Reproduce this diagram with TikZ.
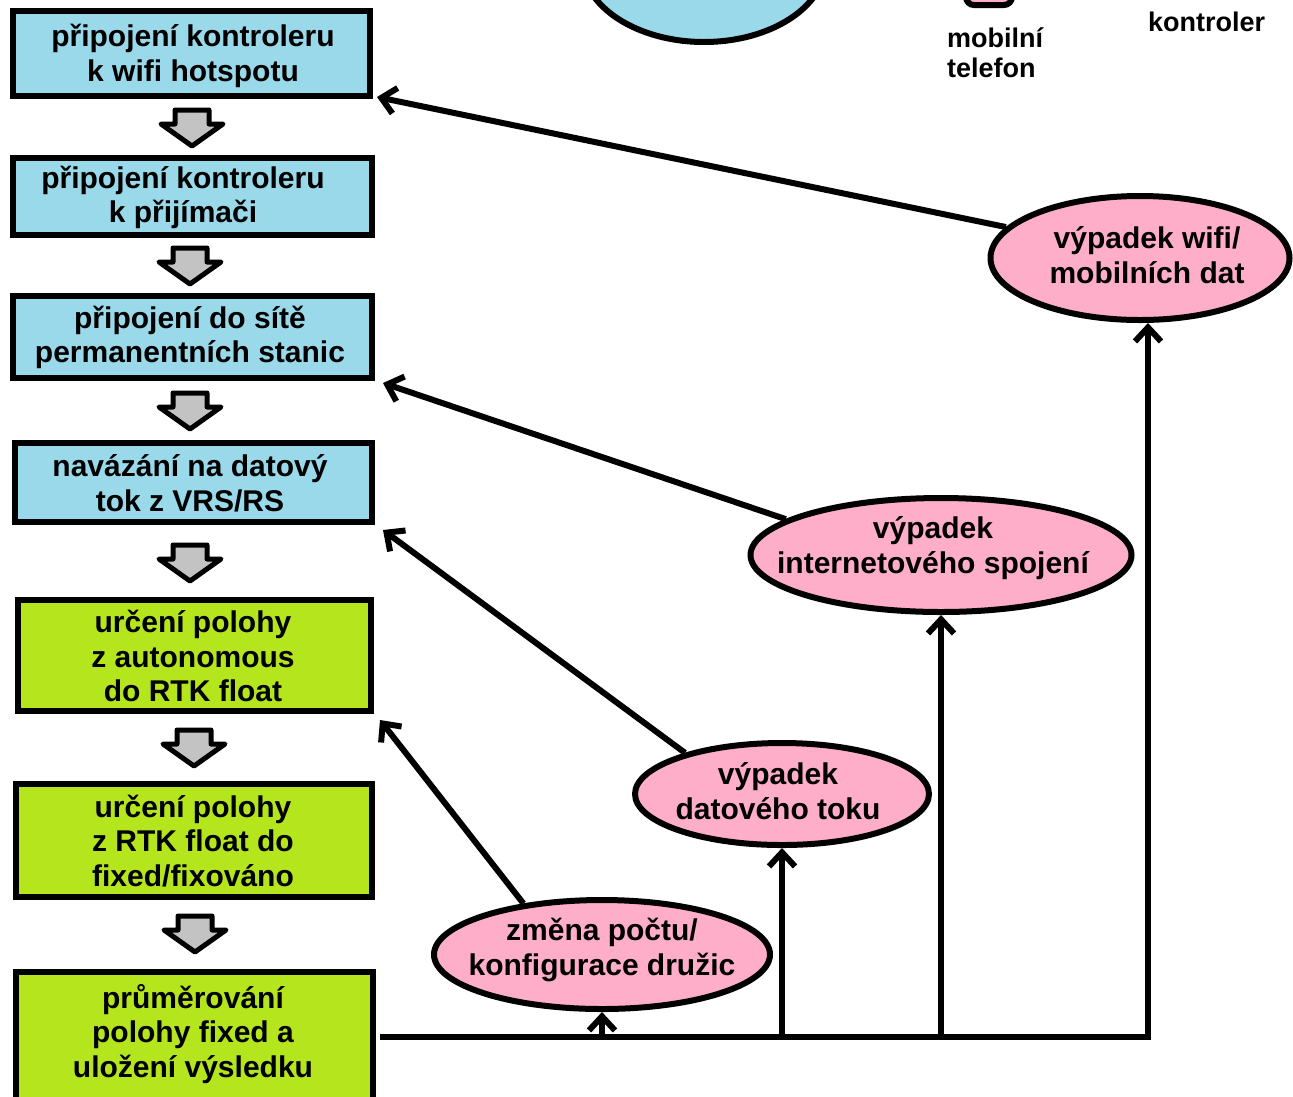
\documentclass[tikz,border=0pt]{standalone}
\usepackage{fontspec}
\setmainfont{Liberation Sans}
\usetikzlibrary{shapes.geometric,arrows.meta,calc}
\definecolor{boxblue}{HTML}{99D9EA}
\definecolor{boxgreen}{HTML}{B5E61D}
\definecolor{elpink}{HTML}{FFAEC9}
\definecolor{arrgray}{HTML}{C3C3C3}
\tikzset{
  txt/.style={font=\fontsize{30}{34.5}\selectfont\bfseries, align=center, text=black},
  stepbox/.style={draw=black, line width=6pt, rectangle, inner sep=0pt, txt},
  bluebox/.style={stepbox, fill=boxblue},
  greenbox/.style={stepbox, fill=boxgreen},
  failell/.style={draw=black, line width=6pt, ellipse, fill=elpink, inner sep=0pt},
  link/.style={line width=6pt, -{Straight Barb[length=14pt,width=26pt,line width=6pt]}, line join=round},
  bus/.style={line width=6pt},
  downarrow/.pic={\draw[line width=5pt, fill=arrgray, line join=round]
     (-17,0) -- (17,0) -- (17,14) -- (31,14) -- (0,36) -- (-31,14) -- (-17,14) -- cycle;},
  lbl/.style={font=\fontsize{27}{30}\selectfont\bfseries, align=left, inner sep=0pt, anchor=north west}
}
\begin{document}
\begin{tikzpicture}[x=1pt,y=-1pt]
\useasboundingbox (0,0) rectangle (1293,1096);
\clip (0,0) rectangle (1293,1096);

% cropped top items
\draw[line width=6pt, fill=boxblue] (704,-38) ellipse [x radius=122, y radius=80];
\draw[line width=6pt, fill=elpink, rounded corners=8pt] (966,-40) rectangle (1012,5);
\node[lbl] (mob) at (947,27) {mobilní\\telefon};
\node[lbl] (kon) at (1148,12) {kontroler};

% step boxes
\node[bluebox, minimum width=357pt, minimum height=85pt] (box1) at (191.5,53.5) {};
\node[txt] (box1t) at (193,56) {připojení kontroleru\\k wifi hotspotu};
\node[bluebox, minimum width=359pt, minimum height=77pt] (box2) at (192.5,196.5) {};
\node[txt] (box2t) at (183,197.5) {připojení kontroleru\\k přijímači};
\node[bluebox, minimum width=359pt, minimum height=82pt] (box3) at (192.5,337) {};
\node[txt] (box3t) at (190,337.5) {připojení do sítě\\permanentních stanic};
\node[bluebox, minimum width=357pt, minimum height=79pt] (box4) at (193.5,482.5) {};
\node[txt] (box4t) at (190,483.5) {navázání na datový\\tok z VRS/RS};
\node[greenbox, minimum width=353pt, minimum height=111pt] (box5) at (194.5,655.5) {};
\node[txt] (box5t) at (193,656) {určení polohy\\z autonomous\\do RTK float};
\node[greenbox, minimum width=356pt, minimum height=113pt] (box6) at (194,840.5) {};
\node[txt] (box6t) at (193,841) {určení polohy\\z RTK float do\\fixed/fixováno};
\node[greenbox, minimum width=357pt, minimum height=170pt] (box7) at (194.5,1057) {};
\node[txt] (box7t) at (193,1034) {průměrování\\polohy fixed a\\uložení výsledku};

% block arrows
\pic at (192,110) {downarrow};
\pic at (190,248) {downarrow};
\pic at (190,393) {downarrow};
\pic at (190,545) {downarrow};
\pic at (194,730) {downarrow};
\pic at (195,916) {downarrow};

% failure ellipses
\node[failell, minimum width=299pt, minimum height=124pt] (e1) at (1140,258) {};
\node[txt] (e1t) at (1147,255) {výpadek wifi/\\mobilních dat};
\node[failell, minimum width=381pt, minimum height=114pt] (e2) at (941,555) {};
\node[txt] (e2t) at (933,548) {výpadek\\internetového spojení};
\node[failell, minimum width=294pt, minimum height=102pt] (e3) at (782,794) {};
\node[txt] (e3t) at (778,791) {výpadek\\datového toku};
\node[failell, minimum width=336pt, minimum height=109pt] (e4) at (602,954.5) {};
\node[txt] (e4t) at (602,950) {změna počtu/\\konfigurace družic};

% bus from last box
\coordinate (busL) at (383,1037);
\coordinate (busR) at (1148,1037);
\draw[bus, line join=miter, line cap=rect] (busL) -- (busR);
\draw[link] (busR) -- (busR |- e1.south);
\draw[link] (e2.south |- busL) -- (e2.south);
\draw[link] (e3.south |- busL) -- (e3.south);
\draw[link] (e4.south |- busL) -- (e4.south);

% return arrows
\draw[link] (e1.167) -- ($(box1.south east)+(4,-2)$);
\draw[link] (e2.167) -- ($(box3.south east)+(8,2)$);
\draw[link] (e3.157) -- ($(box4.south east)+(8,5)$);
\draw[link] (e4.147) -- ($(box5.south east)+(6,6)$);
\end{tikzpicture}
\end{document}
